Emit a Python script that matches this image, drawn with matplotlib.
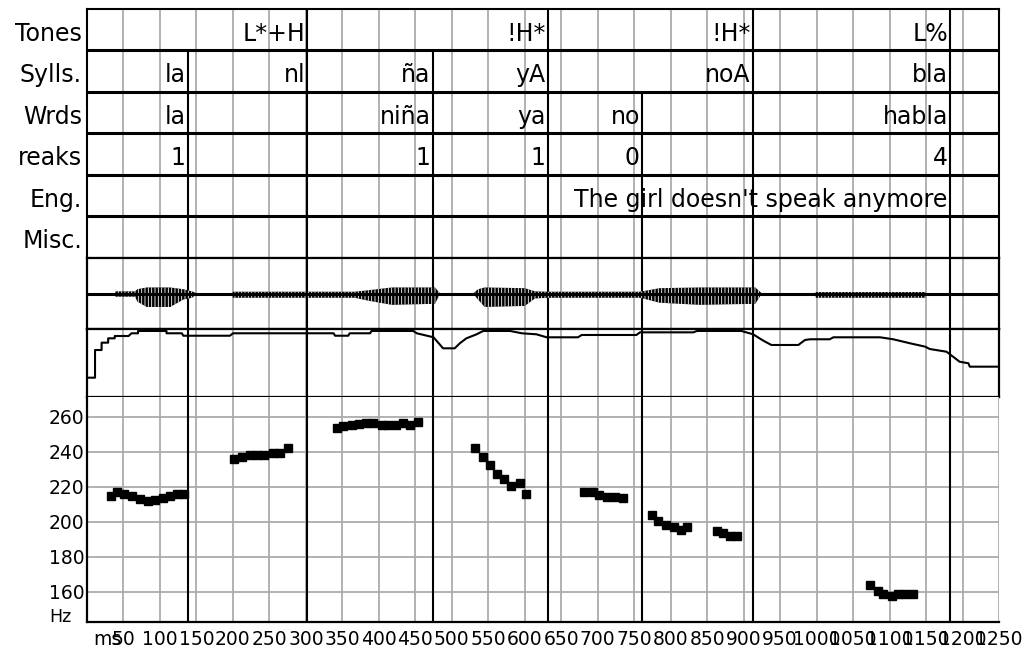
import numpy as np
import matplotlib
matplotlib.use("Agg")
import matplotlib.pyplot as plt

plt.rcParams["font.family"] = ["DejaVu Sans"]
plt.rcParams["hatch.linewidth"] = 0.6

# time axis (ms)
T_MAX = 1250
GRID_MS = list(range(50, 1251, 50))

# label tiers: (right boundary in ms, text)
tier_names = ["Tones", "Sylls.", "Wrds", "reaks", "Eng.", "Misc."]
tones = [(302, "L*+H"), (632, "!H*"), (913, "!H*"), (1183, "L%")]
sylls = [(138, "la"), (302, "nl"), (474, "ña"), (632, "yA"), (913, "noA"), (1183, "bla")]
words = [(138, "la"), (474, "niña"), (632, "ya"), (761, "no"), (1183, "habla")]
breaks = [(138, "1"), (474, "1"), (632, "1"), (761, "0"), (1183, "4")]
english = [(1183, "The girl doesn't speak anymore")]
misc = []
tiers = [tones, sylls, words, breaks, english, misc]

# waveform envelope: time (ms), positive and negative peak (fraction of half height)
wave_t = [38, 39, 66, 69, 82, 114, 132, 144, 151, 199, 200, 302, 367, 385, 418, 477, 484,
          529, 536, 545, 600, 614, 632, 758, 785, 840, 916, 925, 998, 999, 1149, 1150]
wave_hi = [0, .06, .06, .12, .17, .17, .12, .06, 0, 0, .05, .05, .05, .09, .17, .17, 0,
           0, .12, .17, .15, .06, .05, .05, .15, .17, .17, 0, 0, .04, .04, 0]
wave_lo = [0, .09, .09, .23, .38, .38, .17, .12, 0, 0, .12, .12, .12, .2, .32, .29, 0,
           0, .17, .38, .35, .14, .12, .12, .26, .32, .29, 0, 0, .12, .12, 0]

# intensity contour (ms, relative level)
int_t = [0, 11, 11, 20, 20, 29, 29, 38, 38, 57, 61, 70, 70, 109, 109, 130, 132, 196, 200,
         338, 340, 358, 360, 388, 390, 447, 452, 475, 488, 504, 511, 520, 534, 543, 580,
         596, 616, 630, 673, 678, 753, 758, 831, 836, 897, 913, 927, 938, 975, 984, 991,
         1018, 1023, 1087, 1105, 1128, 1149, 1155, 1178, 1187, 1196, 1208, 1210, 1250]
int_v = [.284, .284, .691, .691, .799, .799, .863, .863, .897, .897, .937, .937, .971, .971,
         .937, .937, .901, .901, .937, .937, .901, .901, .937, .937, .971, .971, .937, .878,
         .716, .716, .790, .863, .922, .971, .971, .937, .922, .878, .878, .912, .912, .951,
         .951, .971, .971, .922, .828, .765, .765, .838, .849, .849, .878, .878, .849, .790,
         .740, .706, .666, .593, .519, .496, .446, .446]

# F0 track (ms, Hz)
f0_t = [33, 41, 51, 61, 73, 83, 93, 104, 114, 124, 133,
        202, 213, 223, 233, 242, 255, 265, 275,
        342, 351, 363, 373, 383, 392, 404, 413, 424, 433, 443, 453,
        532, 543, 552, 562, 572, 581, 593, 602,
        681, 693, 702, 713, 724, 734,
        774, 783, 794, 804, 814, 823,
        863, 872, 881, 891,
        1073, 1084, 1091, 1103, 1112, 1121, 1132]
f0_hz = [214.9, 217.2, 215.9, 214.5, 213.0, 212.1, 212.2, 213.4, 214.9, 215.9, 215.9,
         235.7, 237.2, 238.0, 238.0, 238.0, 239.1, 239.1, 242.3,
         253.6, 254.6, 255.1, 256.1, 256.4, 256.4, 255.1, 255.1, 255.5, 256.4, 255.1, 257.0,
         242.3, 237.2, 232.3, 227.5, 224.4, 220.6, 222.1, 215.9,
         216.8, 216.8, 215.5, 214.3, 214.3, 213.4,
         204.0, 200.3, 197.9, 196.9, 195.6, 196.9,
         194.7, 193.4, 192.0, 192.0,
         163.6, 160.4, 158.5, 157.6, 158.5, 158.5, 158.5]
f0_ticks = [160, 180, 200, 220, 240, 260]

W, H = 1023, 652
GRAY = "#ababab"
FS_TIER = 17
FS_TICK = 13.5


def box(top, bottom):
    return [87 / W, 1 - bottom / H, (999 - 87) / W, (bottom - top) / H]


all_bounds = sorted({b for tier in tiers for b, _ in tier})

fig = plt.figure(figsize=(W / 100, H / 100), dpi=100)

# --- label tiers ---
ax = fig.add_axes(box(9, 258))
ax.set_xlim(0, T_MAX)
ax.set_ylim(len(tiers), 0)
ax.vlines(GRID_MS, 0, len(tiers), color=GRAY, lw=1.3, zorder=1)
ax.hlines(range(1, len(tiers)), 0, T_MAX, color="k", lw=2.2, zorder=3)
seen = set()
for i, (name, tier) in enumerate(zip(tier_names, tiers)):
    seen |= {b for b, _ in tier}
    ax.vlines(sorted(seen), i, i + 1, color="k", lw=1.5, zorder=2)
    ax.text(-7, i + 0.76, name, ha="right", va="baseline", fontsize=FS_TIER, clip_on=False)
    for b, txt in tier:
        ax.text(b - 3.2, i + 0.76, txt, ha="right", va="baseline", fontsize=FS_TIER)
ax.set_xticks([]); ax.set_yticks([])
for s in ax.spines.values():
    s.set_linewidth(1.5)

# --- waveform ---
axw = fig.add_axes(box(258, 329))
axw.set_xlim(0, T_MAX); axw.set_ylim(-1, 1)
axw.vlines(GRID_MS, -1, 1, color=GRAY, lw=1.3, zorder=1)
axw.vlines(all_bounds, -1, 1, color="k", lw=1.5, zorder=2)
axw.axhline(0, color="k", lw=2.2, zorder=5)
# solid envelope broken up by thin white strokes so it reads as individual periods
axw.fill_between(wave_t, wave_hi, [-v for v in wave_lo], facecolor="k",
                 edgecolor="w", hatch="|||||", lw=0, zorder=4)
axw.set_xticks([]); axw.set_yticks([])
for s in axw.spines.values():
    s.set_linewidth(1.6)

# --- intensity contour ---
axi = fig.add_axes(box(329, 397))
axi.set_xlim(0, T_MAX); axi.set_ylim(0, 1)
axi.vlines(GRID_MS, 0, 1, color=GRAY, lw=1.3, zorder=1)
axi.vlines(all_bounds, 0, 1, color="k", lw=1.5, zorder=2)
axi.plot(int_t, int_v, color="k", lw=1.5, zorder=3)
axi.set_xticks([]); axi.set_yticks([])
for s in axi.spines.values():
    s.set_linewidth(1.6)

# --- F0 ---
axp = fig.add_axes(box(397, 622))
axp.set_xlim(0, T_MAX); axp.set_ylim(142.7, 271.4)
axp.vlines(GRID_MS, 142.7, 271.4, color=GRAY, lw=1.3, zorder=1)
axp.hlines(f0_ticks, 0, T_MAX, color=GRAY, lw=1.3, zorder=1)
axp.vlines(all_bounds, 142.7, 271.4, color="k", lw=1.5, zorder=2)
axp.plot(f0_t, f0_hz, ls="none", marker="s", ms=5.8, color="k", zorder=3)
axp.spines["top"].set_visible(False)
axp.spines["right"].set_visible(False)
axp.spines["left"].set_linewidth(1.6)
axp.spines["bottom"].set_linewidth(1.6)
axp.set_yticks(f0_ticks)
axp.set_yticklabels([str(v) for v in f0_ticks], fontsize=FS_TICK)
axp.set_xticks(GRID_MS)
axp.set_xticklabels([str(v) for v in GRID_MS], fontsize=FS_TICK)
axp.tick_params(length=0, pad=2)
axp.tick_params(axis="x", pad=6)
fig.text(93 / W, 1 - 645 / H, "ms", fontsize=FS_TICK, ha="left", va="baseline")
fig.text(49 / W, 1 - 622 / H, "Hz", fontsize=12.5, ha="left", va="baseline")

fig.savefig("out.png", dpi=100)
